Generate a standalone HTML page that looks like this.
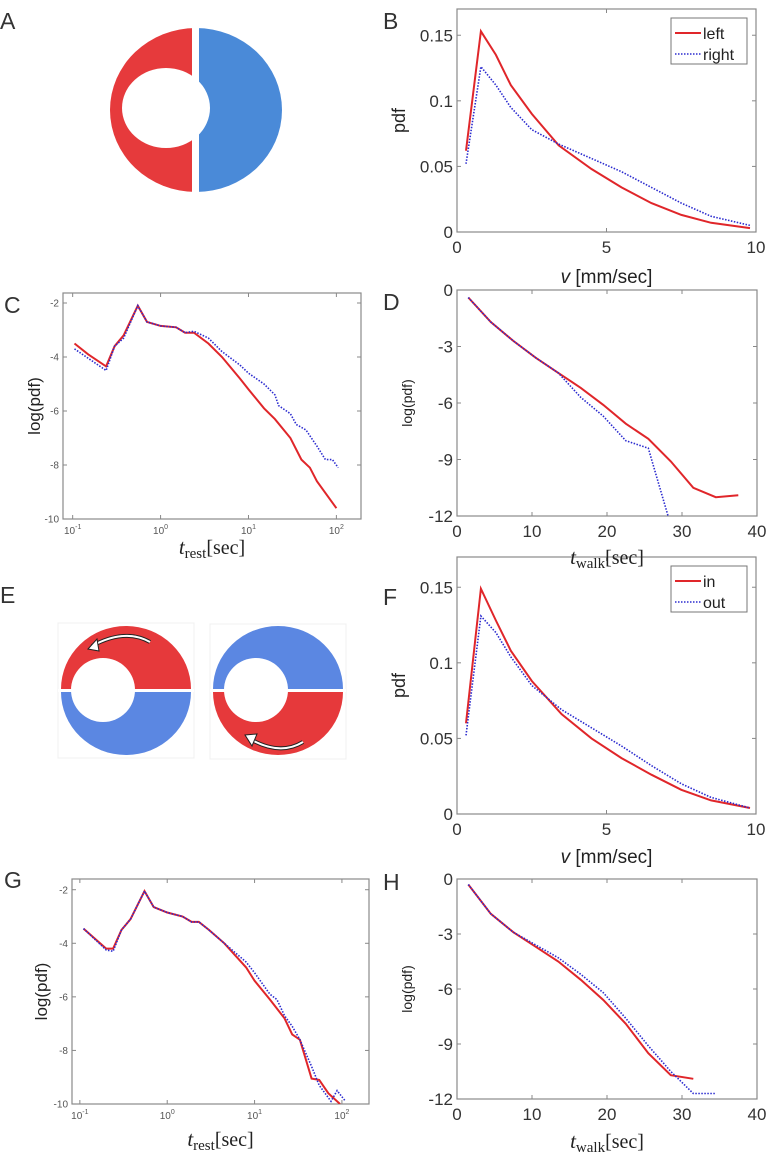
<!DOCTYPE html>
<html><head><meta charset="utf-8"><style>
body{margin:0;background:#fff;width:767px;height:1164px;overflow:hidden}
svg{display:block}
.pl{font-family:"Liberation Sans",sans-serif;font-size:23px;fill:#333}
</style></head><body>
<svg id="fig" width="767" height="1164" viewBox="0 0 767 1164" xmlns="http://www.w3.org/2000/svg">
<text class="pl" x="0" y="29">A</text>
<text class="pl" x="383" y="29">B</text>
<text class="pl" x="4" y="313">C</text>
<text class="pl" x="383" y="310">D</text>
<text class="pl" x="0" y="603">E</text>
<text class="pl" x="383" y="605">F</text>
<text class="pl" x="4" y="888">G</text>
<text class="pl" x="383" y="890">H</text>

<g>
<path d="M196 28 A86 82 0 0 0 196 192 Z" fill="#e63a3c"/>
<path d="M196 28 A86 82 0 0 1 196 192 Z" fill="#4a8ad8"/>
<ellipse cx="166" cy="108" rx="44" ry="40" fill="#fff"/>
<rect x="192" y="20" width="7" height="180" fill="#fff"/>
</g>

<g>
<rect x="58" y="623" width="136" height="135" fill="none" stroke="#f0f0f0"/>
<rect x="210" y="624" width="136" height="135" fill="none" stroke="#f0f0f0"/>
<path d="M61 689 A65 63 0 0 1 191 689 Z" fill="#e6393b"/>
<path d="M61 692 A65 63 0 0 0 191 692 Z" fill="#5b87e2"/>
<circle cx="103" cy="690" r="32" fill="#fff"/>
<rect x="58" y="689" width="136" height="3" fill="#fff"/>
<path d="M150 642 Q125 628 92 646" fill="none" stroke="#222" stroke-width="4"/>
<path d="M150 642 Q125 628 92 646" fill="none" stroke="#fff" stroke-width="2"/>
<path d="M88 649 L97 639 L99 651 Z" fill="#fff" stroke="#222" stroke-width="1"/>
<path d="M213 689 A65 63 0 0 1 343 689 Z" fill="#5b87e2"/>
<path d="M213 692 A65 63 0 0 0 343 692 Z" fill="#e6393b"/>
<circle cx="256" cy="690" r="32" fill="#fff"/>
<rect x="210" y="689" width="136" height="3" fill="#fff"/>
<path d="M303 742 Q280 756 250 739" fill="none" stroke="#222" stroke-width="4"/>
<path d="M303 742 Q280 756 250 739" fill="none" stroke="#fff" stroke-width="2"/>
<path d="M245 735 L257 734 L252 746 Z" fill="#fff" stroke="#222" stroke-width="1"/>
</g>
<g id="plots"></g>
</svg>
<script>
// Panel B
const bX=[0.3,0.8,1.3,1.8,2.5,3.4,4.5,5.5,6.5,7.5,8.5,9.8];
const bLeft=[0.062,0.153,0.135,0.112,0.09,0.066,0.048,0.034,0.022,0.013,0.007,0.003];
const bRight=[0.052,0.126,0.112,0.095,0.078,0.067,0.056,0.046,0.034,0.022,0.012,0.005];
// Panel F
const fX=[0.3,0.8,1.3,1.8,2.5,3.5,4.5,5.5,6.5,7.5,8.5,9.8];
const fIn=[0.06,0.149,0.128,0.108,0.088,0.066,0.05,0.037,0.026,0.016,0.009,0.004];
const fOut=[0.052,0.131,0.12,0.104,0.085,0.069,0.057,0.045,0.032,0.02,0.011,0.004];
const pdfTicks=[0,0.05,0.1,0.15];
const pdfTickLabels=["0","0.05","0.1","0.15"];
const vTicks=[0,5,10];
// Panel C
const cRedX=[0.105,0.15,0.24,0.3,0.38,0.55,0.7,1.0,1.5,1.9,2.4,3.5,5,8,10,15,20,30,40,50,60,100];
const cRedY=[-3.5,-3.9,-4.35,-3.6,-3.2,-2.1,-2.7,-2.85,-2.9,-3.1,-3.1,-3.5,-4.0,-4.8,-5.2,-5.9,-6.3,-7.0,-7.8,-8.1,-8.6,-9.6];
const cBlueX=[0.105,0.24,0.3,0.38,0.55,0.7,1.0,1.5,1.9,2.4,3.5,5,8,10,15,20,22,30,35,45,60,75,90,105];
const cBlueY=[-3.7,-4.5,-3.6,-3.3,-2.1,-2.7,-2.85,-2.9,-3.1,-3.05,-3.3,-3.8,-4.3,-4.6,-5.0,-5.4,-5.8,-6.1,-6.5,-6.7,-7.3,-7.8,-7.8,-8.1];
// Panel G
const gRedX=[0.11,0.2,0.24,0.3,0.38,0.55,0.7,1.0,1.5,1.9,2.3,3,4.5,8,10,15,22,27,33,45,55,70,95];
const gRedY=[-3.45,-4.2,-4.2,-3.5,-3.1,-2.05,-2.65,-2.85,-3.0,-3.2,-3.2,-3.5,-4.0,-4.9,-5.4,-6.1,-6.8,-7.4,-7.6,-9.05,-9.1,-9.6,-10.0];
const gBlueX=[0.11,0.2,0.24,0.3,0.38,0.55,0.7,1.0,1.5,1.9,2.3,3,4.5,8,10,15,18,22,27,33,45,55,75,88,110];
const gBlueY=[-3.45,-4.25,-4.3,-3.5,-3.1,-2.05,-2.65,-2.85,-3.0,-3.2,-3.2,-3.5,-4.0,-4.7,-5.1,-5.9,-6.1,-6.7,-7.1,-7.6,-8.6,-9.3,-9.9,-9.5,-9.9];
const logYTicks=[-10,-8,-6,-4,-2];
const logXTicks=[-1,0,1,2];
// Panel D
const dX=[1.5,4.5,7.5,10.5,13.5,16.5,19.5,22.5,25.5,28.5,31.5,34.5,37.5];
const dRed=[-0.4,-1.7,-2.7,-3.6,-4.4,-5.2,-6.1,-7.1,-7.9,-9.1,-10.5,-11.0,-10.9];
const dBlueX=[1.5,4.5,7.5,10.5,13.5,16.5,19.5,22.5,25.5,28.5];
const dBlue=[-0.4,-1.7,-2.7,-3.6,-4.4,-5.7,-6.7,-8.0,-8.4,-12.5];
// Panel H
const hRedX=[1.5,4.5,7.5,10.5,13.5,16.5,19.5,22.5,25.5,28.5,31.5];
const hRed=[-0.3,-1.9,-2.9,-3.7,-4.5,-5.5,-6.6,-7.9,-9.5,-10.7,-10.9];
const hBlueX=[1.5,4.5,7.5,10.5,13.5,16.5,19.5,22.5,25.5,28.5,31.5,34.5];
const hBlue=[-0.3,-1.9,-2.9,-3.6,-4.3,-5.2,-6.2,-7.6,-9.1,-10.5,-11.7,-11.7];
const walkYTicks=[-12,-9,-6,-3,0];
const walkXTicks=[0,10,20,30,40];

const NS="http://www.w3.org/2000/svg";
const root=document.getElementById('plots');
function mk(tag,attrs,parent){const e=document.createElementNS(NS,tag);for(const k in attrs)e.setAttribute(k,attrs[k]);(parent||root).appendChild(e);return e;}

function panel(o){
  const g=mk('g',{});
  
  
  const sx=v=>{const t=o.logx?Math.log10(v):v;return o.L+(t-o.x0)/(o.x1-o.x0)*(o.R-o.L);};
  const sy=v=>o.B-(v-o.y0)/(o.y1-o.y0)*(o.B-o.T);
  const clip='c'+o.name;
  const cp=mk('clipPath',{id:clip},g);mk('rect',{x:o.L,y:o.T,width:o.R-o.L,height:o.B-o.T},cp);
  const box=mk('rect',{x:o.L,y:o.T,width:o.R-o.L,height:o.B-o.T,fill:'none',stroke:'#8a8a8a','stroke-width':1.2},g);
  
  
  const fs=o.big?17:10, col=o.big?'#333':'#555';
  o.yt.forEach((v,i)=>{
    const y=sy(v);
    mk('line',{x1:o.L,x2:o.L+4,y1:y,y2:y,stroke:'#888'},g);
    mk('line',{x1:o.R,x2:o.R-4,y1:y,y2:y,stroke:'#888'},g);
    const t=mk('text',{x:o.L-4,y:y+fs*0.36,'text-anchor':'end','font-family':'Liberation Sans, sans-serif','font-size':fs,fill:col},g);
    t.textContent=o.ytl?o.ytl[i]:String(v);
    
    
  });
  o.xt.forEach(v=>{
    const x=o.logx?o.L+(v-o.x0)/(o.x1-o.x0)*(o.R-o.L):sx(v);
    mk('line',{x1:x,x2:x,y1:o.B,y2:o.B-4,stroke:'#888'},g);
    mk('line',{x1:x,x2:x,y1:o.T,y2:o.T+4,stroke:'#888'},g);
    const t=mk('text',{x:x,y:o.B+(o.big?21:15),'text-anchor':'middle','font-family':'Liberation Sans, sans-serif','font-size':fs,fill:col},g);
    
    
    if(o.logx){t.textContent='10';const s=mk('tspan',{dy:-5,'font-size':7},t);s.textContent=String(v);}
    else t.textContent=String(v);
  });
  o.series.forEach(s=>{
    const d=s.x.map((v,i)=>(i?'L':'M')+sx(v).toFixed(1)+' '+sy(s.y[i]).toFixed(1)).join(' ');
    const p=mk('path',{d:d,fill:'none',stroke:s.c,'stroke-width':s.dot?1.6:2,'stroke-dasharray':s.dot?'1.5 1.5':'none','clip-path':'url(#'+clip+')'},g);
    
    
  });
  const yl=mk('text',{transform:`translate(${o.ylx},${(o.T+o.B)/2}) rotate(-90)`,'text-anchor':'middle','font-family':'Liberation Sans, sans-serif','font-size':o.ylfs,fill:'#222'},g);
  yl.textContent=o.ylab;
  
  
  const xl=mk('text',{x:(o.L+o.R)/2,y:o.xly,'text-anchor':'middle','font-size':19,fill:'#222','font-family':'Liberation Serif, serif'},g);
  
  
  if(o.xlab==='v'){
    const a=mk('tspan',{'font-style':'italic','font-family':'Liberation Sans, sans-serif'},xl);a.textContent='v ';
    const b=mk('tspan',{'font-family':'Liberation Sans, sans-serif'},xl);b.textContent='[mm/sec]';
  } else {
    const a=mk('tspan',{'font-style':'italic','font-size':21},xl);a.textContent='t';
    const b=mk('tspan',{dy:4,'font-size':15},xl);b.textContent=o.xlab;
    const c=mk('tspan',{dy:-4,'font-size':20},xl);c.textContent='[sec]';
  }
  if(o.legend){
    const lg=mk('g',{},g);
    
    
    mk('rect',{x:o.R-85,y:o.T+9,width:76,height:46,fill:'#fff',stroke:'#777'},lg);
    o.legend.forEach((n,i)=>{
      const s=o.series[i];const y=o.T+24+i*21;
      mk('line',{x1:o.R-81,x2:o.R-55,y1:y,y2:y,stroke:s.c,'stroke-width':s.dot?1.6:2,'stroke-dasharray':s.dot?'1.5 1.5':'none'},lg);
      const t=mk('text',{x:o.R-53,y:y+6,'font-family':'Liberation Sans, sans-serif','font-size':16,fill:'#222'},lg);
      t.textContent=n;
      
      
    });
  }
}
const RED='#e0262a',BLUE='#2b2bcf';
panel({name:'chart-b',L:457,R:756,T:9,B:232,x0:0,x1:10,y0:0,y1:0.17,big:true,yt:pdfTicks,ytl:pdfTickLabels,xt:vTicks,ylab:'pdf',ylx:405,ylfs:18,xlab:'v',xly:283,legend:['left','right'],
 series:[{x:bX,y:bLeft,c:RED,n:'series-left'},{x:bX,y:bRight,c:BLUE,dot:1,n:'series-right'}]});
panel({name:'chart-f',L:457,R:756,T:557,B:814,x0:0,x1:10,y0:0,y1:0.17,big:true,yt:pdfTicks,ytl:pdfTickLabels,xt:vTicks,ylab:'pdf',ylx:405,ylfs:18,xlab:'v',xly:863,legend:['in','out'],
 series:[{x:fX,y:fIn,c:RED,n:'series-in'},{x:fX,y:fOut,c:BLUE,dot:1,n:'series-out'}]});
panel({name:'chart-c',L:63,R:361,T:293,B:519,logx:1,x0:-1.11,x1:2.28,y0:-10,y1:-1.63,big:false,yt:logYTicks,xt:logXTicks,ylab:'log(pdf)',ylx:40,ylfs:17,xlab:'rest',xly:554,
 series:[{x:cRedX,y:cRedY,c:RED,n:'series-left'},{x:cBlueX,y:cBlueY,c:BLUE,dot:1,n:'series-right'}]});
panel({name:'chart-g',L:72,R:369,T:879,B:1104,logx:1,x0:-1.09,x1:2.31,y0:-10,y1:-1.6,big:false,yt:logYTicks,xt:logXTicks,ylab:'log(pdf)',ylx:47,ylfs:17,xlab:'rest',xly:1146,
 series:[{x:gRedX,y:gRedY,c:RED,n:'series-in'},{x:gBlueX,y:gBlueY,c:BLUE,dot:1,n:'series-out'}]});
panel({name:'chart-d',L:457,R:757,T:290,B:516,x0:0,x1:40,y0:-12,y1:0,big:true,yt:walkYTicks,xt:walkXTicks,ylab:'log(pdf)',ylx:412,ylfs:14,xlab:'walk',xly:564,
 series:[{x:dX,y:dRed,c:RED,n:'series-left'},{x:dBlueX,y:dBlue,c:BLUE,dot:1,n:'series-right'}]});
panel({name:'chart-h',L:457,R:757,T:879,B:1099,x0:0,x1:40,y0:-12,y1:0,big:true,yt:walkYTicks,xt:walkXTicks,ylab:'log(pdf)',ylx:412,ylfs:14,xlab:'walk',xly:1148,
 series:[{x:hRedX,y:hRed,c:RED,n:'series-in'},{x:hBlueX,y:hBlue,c:BLUE,dot:1,n:'series-out'}]});
</script>
</body></html>
